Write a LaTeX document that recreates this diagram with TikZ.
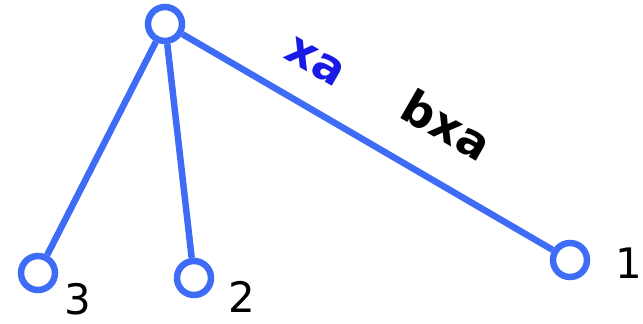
\documentclass[tikz,border=0pt]{standalone}
\usepackage{fontspec}
\setmainfont{DejaVu Sans}
\usepackage{tikz}
\usetikzlibrary{positioning}
\definecolor{treeblue}{HTML}{3F6CF6}
\definecolor{labblue}{HTML}{1A1AE6}

\begin{document}
\begin{tikzpicture}[x=1pt,y=-1pt,
  vert/.style={circle,draw=treeblue,line width=6.5pt,inner sep=0pt,minimum size=34pt},
  edge/.style={draw=treeblue,line width=6.5pt},
  num/.style={font=\fontsize{42}{42}\selectfont,inner sep=0pt},
  elab/.style={font=\fontsize{46}{46}\selectfont\bfseries,inner sep=0pt,rotate=-30}]
  \useasboundingbox (0,0) rectangle (643,324);
  % vertices
  \node[vert] (r) at (165,24){};
  \node[vert] (v3) at (38,273){};
  \node[vert] (v2) at (194,278){};
  \node[vert] (v1) at (570,260){};
  % edges
  \draw[edge] (r)--(v3); \draw[edge] (r)--(v2); \draw[edge] (r)--(v1);
  % labels
  \node[num] (l3) at (78,299){3};
  \node[num] (l2) at (242,297){2};
  \node[num] (l1) at (629,263){1};
  \node[elab,labblue] (xa) at (315,62){xa};
  \node[elab] (bxa) at (447,125){bxa};
\end{tikzpicture}
\end{document}
